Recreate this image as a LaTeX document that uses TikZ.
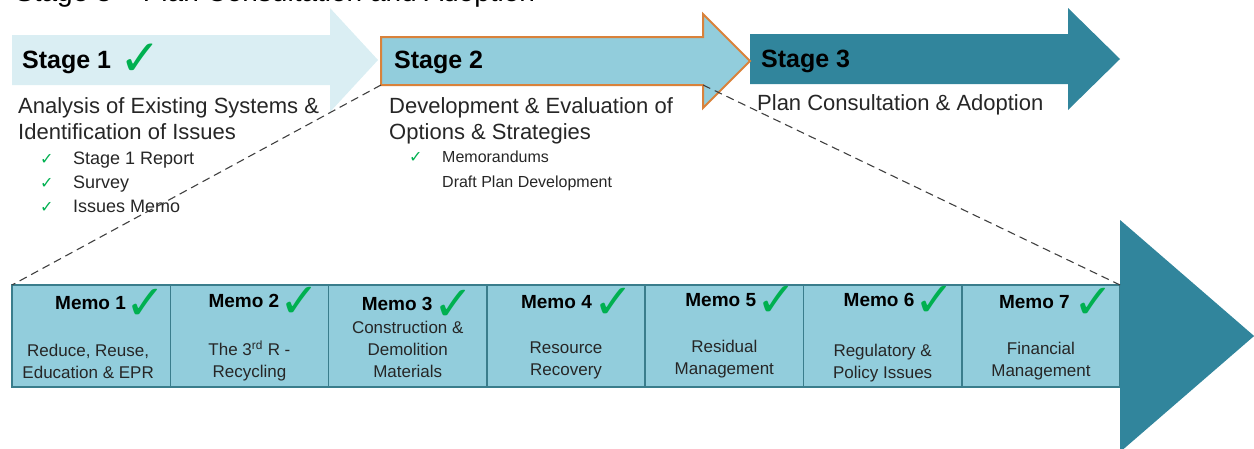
\documentclass[tikz,border=0pt]{standalone}
\usepackage{fontspec}
\setmainfont{Liberation Sans}
\newfontfamily\symfont{DejaVu Sans}
\usetikzlibrary{positioning}
\definecolor{stagepale}{HTML}{DAEEF3}
\definecolor{stagemid}{HTML}{92CDDC}
\definecolor{stagedark}{HTML}{31859C}
\definecolor{memoline}{HTML}{3A7D8C}
\definecolor{stageorange}{HTML}{D9823B}
\definecolor{tickgreen}{HTML}{00B050}
\definecolor{textgrey}{HTML}{262626}
\newcommand{\bigtick}{{\symfont\fontsize{48}{48}\selectfont\color{tickgreen}\raisebox{-10pt}{✓}}}
\newcommand{\headtick}{{\symfont\fontsize{50}{50}\selectfont\color{tickgreen}\raisebox{-7pt}{✓}}}
\newcommand{\smalltick}{{\symfont\fontsize{16}{16}\selectfont\color{tickgreen}✓}}
\newcommand{\listgap}[1]{\makebox[33pt][l]{#1}}
\tikzset{
memobox/.style={draw=memoline,line width=1.5pt,fill=stagemid,minimum width=158.3pt,minimum height=102pt,inner sep=0,outer sep=0},
memotitle/.style={anchor=base west,inner sep=0,font=\bfseries\fontsize{19}{19}\selectfont},
memotext/.style={anchor=north,inner sep=0,align=center,text=textgrey,font=\fontsize{17}{22}\selectfont},
stagehead/.style={anchor=base west,inner sep=0,font=\bfseries\fontsize{25}{25}\selectfont},
stagetext/.style={anchor=north west,inner sep=0,align=left,text=textgrey,font=\fontsize{22}{26}\selectfont},
ticklist/.style={anchor=north west,inner sep=0,align=left,text=textgrey},
dashline/.style={dashed,dash pattern=on 8pt off 5pt,line width=1.1pt,draw=black!75}
}

\begin{document}
\begin{tikzpicture}[x=1pt,y=-1pt]
	\useasboundingbox (0,0) rectangle (1254,448);
	\clip (0,0) rectangle (1254,448);
	% stage arrows
	\fill[stagepale] (12,35) -- (330,35) -- (330,8) -- (378,60) -- (330,112) -- (330,85) -- (12,85) -- cycle;
	\fill[stagedark] (750,34) -- (1068,34) -- (1068,8) -- (1120,59) -- (1068,110) -- (1068,84) -- (750,84) -- cycle;
	\filldraw[fill=stagemid,draw=stageorange,line width=2pt] (381,37) -- (703,37) -- (703,14) -- (750,61)
	-- (703,108) -- (703,85) coordinate(s2se) -- (381,85) coordinate(s2sw) -- cycle;
	\node[stagehead] (h1) at (22,68) {Stage 1\hspace{8pt}\headtick};
	\node[stagetext] (a1) at (18,97) {Analysis of Existing Systems \&\\Identification of Issues};
	\node[ticklist,font=\fontsize{18}{24}\selectfont] (l1) at (40,152)
	{\listgap{\smalltick}Stage 1 Report\\\listgap{\smalltick}Survey\\\listgap{\smalltick}Issues Memo};
	\node[stagehead] (h2) at (394,68) {Stage 2};
	\node[stagetext] (a2) at (389,97) {Development \& Evaluation of\\Options \& Strategies};
	\node[ticklist,font=\fontsize{16}{25}\selectfont] (l2) at (409,151)
	{\listgap{\smalltick}Memorandums\\\listgap{}Draft Plan Development};
	\node[stagehead] (h3) at (761,67) {Stage 3};
	\node[stagetext] (a3) at (757,94) {Plan Consultation \& Adoption};
	% memo row
	\node[memobox] (m1) at (91.15,336) {};
	\node[memobox,right=0pt of m1] (m2) {};
	\node[memobox,right=0pt of m2] (m3) {};
	\node[memobox,right=0pt of m3] (m4) {};
	\node[memobox,right=0pt of m4] (m5) {};
	\node[memobox,right=0pt of m5] (m6) {};
	\node[memobox,right=0pt of m6] (m7) {};
	\fill[stagedark] ([yshift=116pt]m7.east) -- ([xshift=134pt]m7.east) -- ([yshift=-116pt]m7.east) -- cycle;
	\node[memotitle] (t1) at ([xshift=43pt,yshift=-24pt]m1.north west) {Memo 1\bigtick};
	\node[memotitle] (t2) at ([xshift=38pt,yshift=-22pt]m2.north west) {Memo 2\bigtick};
	\node[memotitle] (t3) at ([xshift=33pt,yshift=-25pt]m3.north west) {Memo 3\hspace{1pt}\bigtick};
	\node[memotitle] (t4) at ([xshift=34pt,yshift=-23pt]m4.north west) {Memo 4\hspace{2pt}\bigtick};
	\node[memotitle] (t5) at ([xshift=40pt,yshift=-21pt]m5.north west) {Memo 5\bigtick};
	\node[memotitle] (t6) at ([xshift=40pt,yshift=-21pt]m6.north west) {Memo 6\bigtick};
	\node[memotitle] (t7) at ([xshift=37pt,yshift=-23pt]m7.north west) {Memo 7\hspace{4pt}\bigtick};
	\node[memotext] (d1) at ([xshift=-3pt,yshift=-58.6pt]m1.north) {Reduce, Reuse,\\Education \& EPR};
	\node[memotext] (d2) at ([yshift=-55.2pt]m2.north) {The 3\textsuperscript{rd} R -\\Recycling};
	\node[memotext] (d3) at ([yshift=-35.6pt]m3.north) {Construction \&\\Demolition\\Materials};
	\node[memotext] (d4) at ([yshift=-56.6pt]m4.north) {Resource\\Recovery};
	\node[memotext] (d5) at ([yshift=-54.6pt]m5.north) {Residual\\Management};
	\node[memotext] (d6) at ([yshift=-58.6pt]m6.north) {Regulatory \&\\Policy Issues};
	\node[memotext] (d7) at ([yshift=-56.6pt]m7.north) {Financial\\Management};
	\draw[dashline] (s2sw) -- (m1.north west);
	\draw[dashline] (s2se) -- (m7.north east);
	\node[anchor=base west,inner sep=0,font=\fontsize{28}{28}\selectfont] (top) at (15,1.5) {Stage 3 – Plan Consultation and Adoption};
\end{tikzpicture}
\end{document}
